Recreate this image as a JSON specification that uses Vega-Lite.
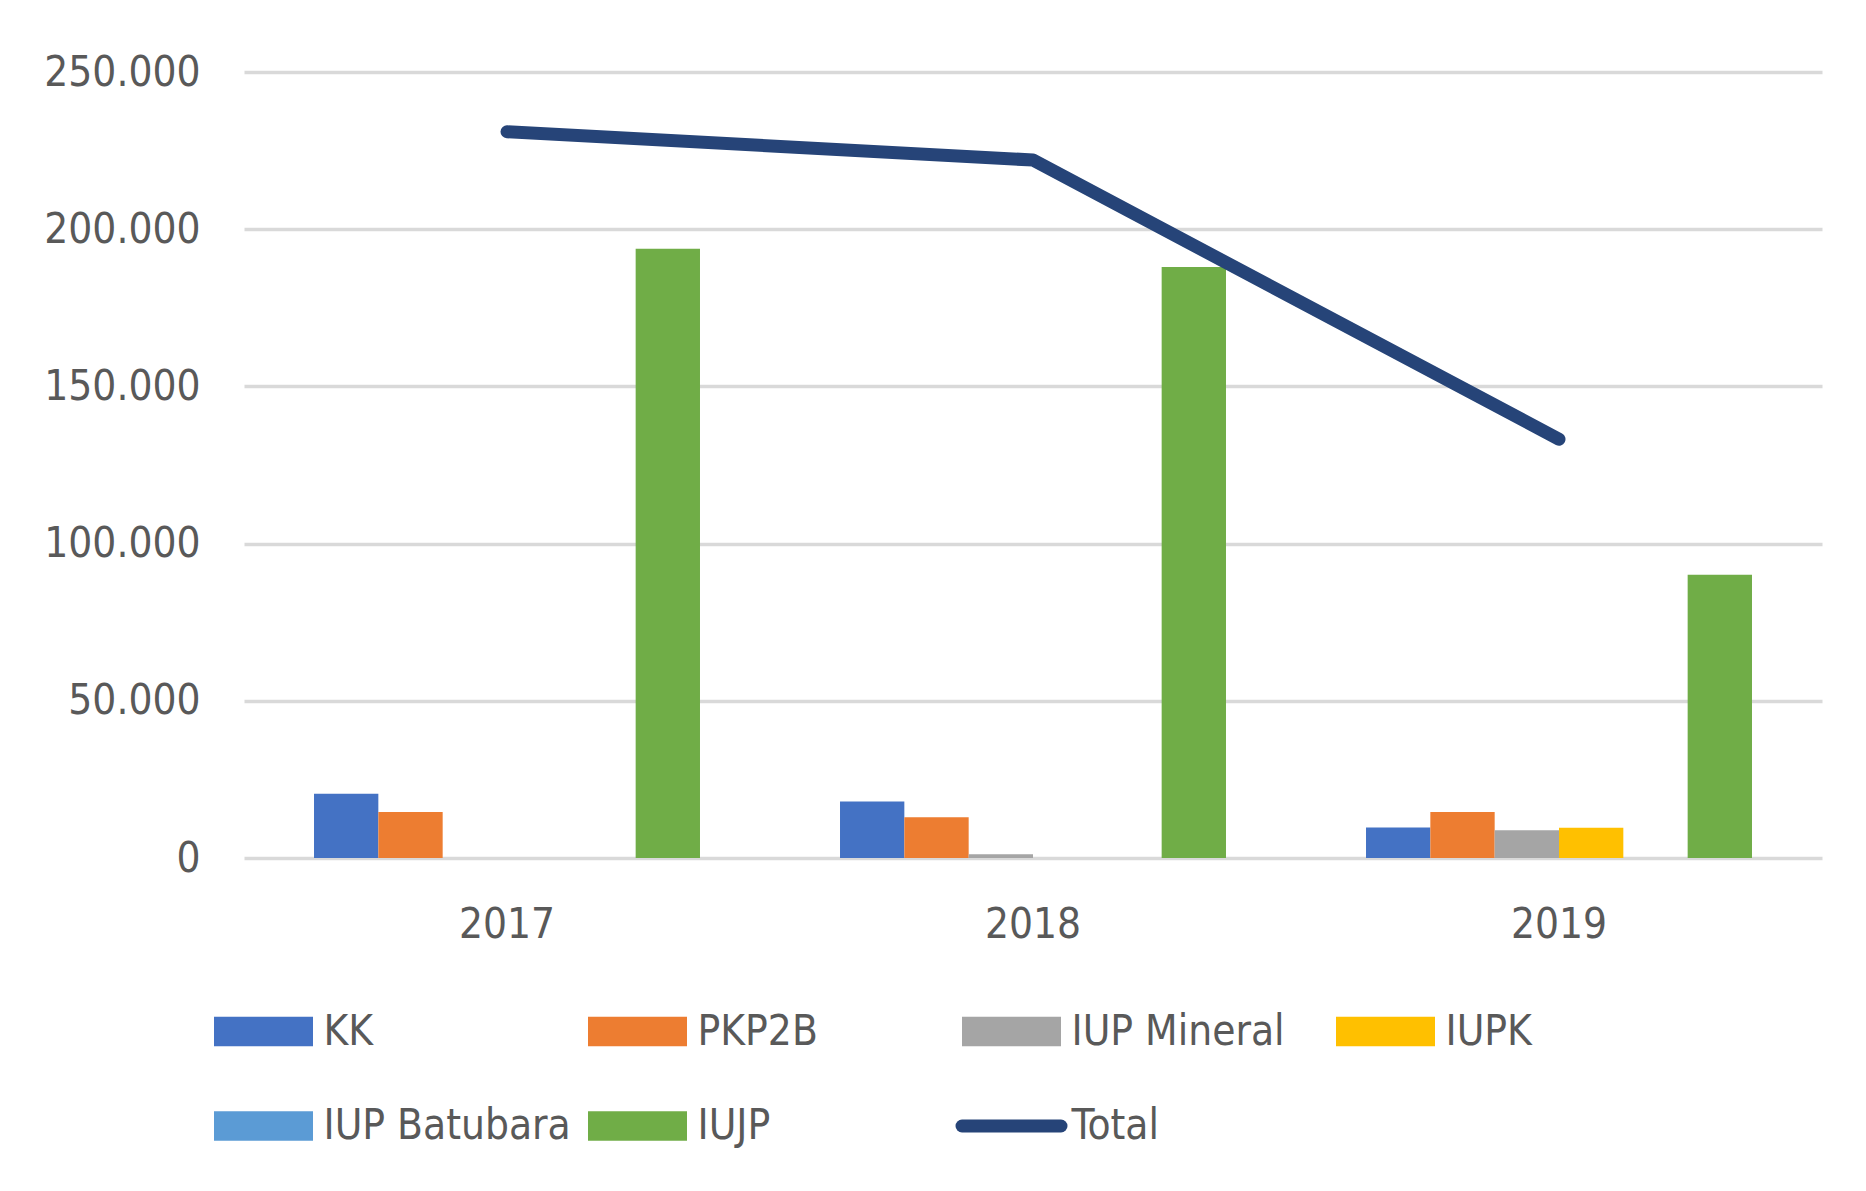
{
  "$schema": "https://vega.github.io/schema/vega-lite/v6.json",
  "autosize": "none",
  "width": 1578,
  "height": 786,
  "padding": {"left": 244, "top": 72, "right": 44, "bottom": 333},
  "background": "white",
  "config": {
    "view": {"stroke": null},
    "font": "DejaVu Sans Condensed, Liberation Sans",
    "axis": {"labelFont": "DejaVu Sans Condensed, Liberation Sans", "labelFontSize": 42, "labelColor": "#595959"},
    "legend": {"labelFont": "DejaVu Sans Condensed, Liberation Sans"}
  },
  "data": {
    "values": [
      {"year": "2017", "series": "KK", "value": 20400},
      {"year": "2017", "series": "PKP2B", "value": 14600},
      {"year": "2017", "series": "IUP Mineral", "value": 0},
      {"year": "2017", "series": "IUPK", "value": 0},
      {"year": "2017", "series": "IUP Batubara", "value": 0},
      {"year": "2017", "series": "IUJP", "value": 193800},
      {"year": "2018", "series": "KK", "value": 18000},
      {"year": "2018", "series": "PKP2B", "value": 13000},
      {"year": "2018", "series": "IUP Mineral", "value": 1200},
      {"year": "2018", "series": "IUPK", "value": 0},
      {"year": "2018", "series": "IUP Batubara", "value": 0},
      {"year": "2018", "series": "IUJP", "value": 188000},
      {"year": "2019", "series": "KK", "value": 9700},
      {"year": "2019", "series": "PKP2B", "value": 14600},
      {"year": "2019", "series": "IUP Mineral", "value": 8800},
      {"year": "2019", "series": "IUPK", "value": 9600},
      {"year": "2019", "series": "IUP Batubara", "value": 0},
      {"year": "2019", "series": "IUJP", "value": 90100},
      {"year": "2017", "series": "Total", "value": 231000},
      {"year": "2018", "series": "Total", "value": 222000},
      {"year": "2019", "series": "Total", "value": 133200}
    ]
  },
  "encoding": {
    "x": {
      "field": "year", "type": "nominal",
      "scale": {"paddingInner": 0.2662, "paddingOuter": 0.1331},
      "axis": {"title": null, "labelAngle": 0, "domain": false, "ticks": false, "labelPadding": 46}
    },
    "y": {
      "field": "value", "type": "quantitative",
      "scale": {"domain": [0, 250000], "nice": false},
      "axis": {
        "title": null, "domain": false, "ticks": false, "labelPadding": 44,
        "values": [0, 50000, 100000, 150000, 200000, 250000],
        "gridColor": "#d9d9d9", "gridWidth": 3.5,
        "labelExpr": "replace(format(datum.value, ','), ',', '.')"
      }
    },
    "color": {
      "field": "series", "type": "nominal",
      "scale": {
        "domain": ["KK", "PKP2B", "IUP Mineral", "IUPK", "IUP Batubara", "IUJP", "Total"],
        "range": ["#4472C4", "#ED7D31", "#A5A5A5", "#FFC000", "#5B9BD5", "#70AD47", "#264478"]
      },
      "legend": {
        "title": null,
        "orient": "none",
        "legendX": -30,
        "legendY": 936,
        "direction": "horizontal",
        "columns": 4,
        "gridAlign": "all",
        "columnPadding": -9,
        "rowPadding": 45,
        "padding": 0,
        "symbolSize": 9801,
        "symbolOffset": 28.5,
        "labelFontSize": 42,
        "labelColor": "#595959",
        "labelOffset": 39,
        "labelLimit": 500,
        "encode": {
          "symbols": {
            "update": {
              "shape": {"signal": "datum.value === 'Total' ? 'stroke' : 'M-1,-0.3H1V0.3H-1Z'"},
              "fill": {"signal": "datum.value === 'Total' ? 'transparent' : scale('color', datum.value)"},
              "stroke": {"signal": "datum.value === 'Total' ? scale('color', datum.value) : 'transparent'"},
              "strokeWidth": {"signal": "datum.value === 'Total' ? 13 : 0"},
              "strokeCap": {"value": "round"},
              "opacity": {"value": 1}
            }
          }
        }
      }
    }
  },
  "layer": [
    {
      "transform": [{"filter": "datum.series !== 'Total'"}],
      "mark": {"type": "bar"},
      "encoding": {
        "xOffset": {
          "field": "series", "type": "nominal",
          "sort": ["KK", "PKP2B", "IUP Mineral", "IUPK", "IUP Batubara", "IUJP"],
          "scale": {"domain": ["KK", "PKP2B", "IUP Mineral", "IUPK", "IUP Batubara", "IUJP"], "paddingInner": 0, "paddingOuter": 0}
        }
      }
    },
    {
      "transform": [{"filter": "datum.series === 'Total'"}],
      "mark": {"type": "line", "strokeWidth": 13, "strokeCap": "round", "strokeJoin": "round"},
      "encoding": {}
    }
  ]
}
